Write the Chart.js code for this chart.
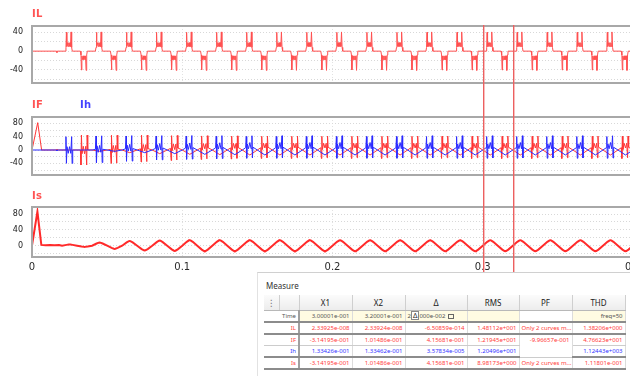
<!DOCTYPE html>
<html>
<head>
<meta charset="utf-8">
<script src="https://cdn.jsdelivr.net/npm/chart.js@4.4.0/dist/chart.umd.min.js"></script>
<style>
  html, body { margin: 0; padding: 0; background: #fff; width: 630px; height: 376px; overflow: hidden; }
  body { position: relative; }
  canvas.plot { position: absolute; left: 0; }
  .title { position: absolute; font: bold 10px "DejaVu Sans", sans-serif; letter-spacing: 0.3px; }
  #measure { position: absolute; left: 257px; top: 272px; width: 373px; height: 104px; background: #fff;
             border-top: 1px solid #d0d0d0; border-left: 1px solid #e2e2e2; }
  #measure .mtitle { position: absolute; left: 8px; top: 7px; font: 8px "Noto Sans", sans-serif; color: #333; }
  #measure table { position: absolute; left: 6px; top: 22px; border-collapse: collapse; table-layout: fixed;
                   font-family: "Noto Sans", "DejaVu Sans", sans-serif; }
  #measure th { height: 15px; padding: 0; font-weight: normal; font-size: 8px; color: #222;
                background: linear-gradient(#fbfbfb, #ececec); border-right: 1px solid #cfcfcf; border-bottom: 1px solid #b8b8b8; }
  #measure th.dots { color: #777; font-size: 9px; }
  #measure td { height: 10px; padding: 0 2px 0 0; font-size: 6px; line-height: 10px; text-align: right; white-space: nowrap;
                overflow: hidden; border-right: 1px solid #dcdcdc; }
  #measure td.lbl { border-right: 2px solid #a0a0a0; }
  #measure tr.thick td { border-bottom: 2px solid #8c8c8c; }
  #measure tr.thin td { border-bottom: 1px solid #cccccc; }
  #measure tr.time td { color: #555; }
  #measure tr.time td.y { background: #fffbe2; }
  #measure td.pfmerge { border-bottom: 2px solid #8c8c8c; vertical-align: top; }
  #measure td.left { text-align: left; padding: 0 0 0 2px; }
  .dbox { display: inline-block; border: 1px solid #888; background: #fff; color: #222; font-size: 7px; line-height: 7px; padding: 0 1px; }
  .lock { display: inline-block; width: 4px; height: 3px; border: 1px solid #666; margin-left: 3px; vertical-align: middle; }
</style>
</head>
<body>
<canvas id="cIL" class="plot" width="650" height="100" style="top:0px"></canvas>
<canvas id="cIF" class="plot" width="650" height="90" style="top:100px"></canvas>
<canvas id="cIs" class="plot" width="650" height="90" style="top:190px"></canvas>

<div class="title" style="left:32px; top:8px; color:#ff5353">IL</div>
<div class="title" style="left:32px; top:99px; color:#ff5353">IF</div>
<div class="title" style="left:80px; top:99px; color:#4343ff">Ih</div>
<div class="title" style="left:32px; top:190px; color:#ff5353">Is</div>

<div id="measure">
  <div class="mtitle">Measure</div>
  <table>
    <colgroup>
      <col style="width:15px"><col style="width:20px"><col style="width:53px"><col style="width:53px">
      <col style="width:62px"><col style="width:52px"><col style="width:53px"><col style="width:53px">
    </colgroup>
    <tr><th class="dots">&#8942;</th><th></th><th>X1</th><th>X2</th><th>&Delta;</th><th>RMS</th><th>PF</th><th>THD</th></tr>
    <tr class="time thick">
      <td class="lbl" colspan="2">Time</td><td class="y">3.00001e-001</td><td class="y">3.20001e-001</td>
      <td class="y left">2<span class="dbox">&Delta;</span>000e-002<span class="lock"></span></td>
      <td class="y"></td><td></td><td class="y">freq=50</td>
    </tr>
    <tr class="thick" style="color:#ff3b3b">
      <td class="lbl" colspan="2">IL</td><td>2.33925e-008</td><td>2.33924e-008</td><td>-6.50859e-014</td>
      <td>1.48112e+001</td><td class="left">Only 2 curves m...</td><td>1.38206e+000</td>
    </tr>
    <tr class="thin" style="color:#ff3b3b">
      <td class="lbl" colspan="2">IF</td><td>-3.14195e-001</td><td>1.01486e-001</td><td>4.15681e-001</td>
      <td>1.21945e+001</td><td class="pfmerge" rowspan="2">-9.96657e-001</td><td>4.76623e+001</td>
    </tr>
    <tr class="thick" style="color:#3434ff">
      <td class="lbl" colspan="2">Ih</td><td>1.33426e-001</td><td>1.33462e-001</td><td>3.57834e-005</td>
      <td>1.20496e+001</td><td>1.12443e+003</td>
    </tr>
    <tr class="thick" style="color:#ff3b3b">
      <td class="lbl" colspan="2">Is</td><td>-3.14195e-001</td><td>1.01486e-001</td><td>4.15681e-001</td>
      <td>8.98173e+000</td><td class="left">Only 2 curves m...</td><td>1.11801e-001</td>
    </tr>
  </table>
</div>

<script>
// time base (s)
const xRange = [0, 0.4];
const firstCycle = 0.02;
const cyclePeriod = 0.02;
const cursorTimes = [0.30, 0.32];

// per-cycle peak values (19 cycles from 0.02 s)
const ilAmp   = [40, 40, 40, 40, 40, 40, 40, 40, 40, 40, 40, 40, 40, 40, 40, 40, 40, 40, 40];
const isAmp   = [3, 8, 12, 13, 14, 14, 14, 14, 14, 14, 14, 14, 14, 14, 14, 14, 14, 14, 14];
const ihEnv   = [0, 4, 8, 11, 13, 14, 15, 15, 15, 15, 15, 15, 15, 15, 15, 15, 15, 15, 15];
const ihBurst = [40, 40, 38, 36, 35, 34, 33, 33, 33, 33, 33, 33, 33, 33, 33, 33, 33, 33, 33];
const ifEnv   = [0, 4, 8, 11, 13, 14, 15, 15, 15, 15, 15, 15, 15, 15, 15, 15, 15, 15, 15];
const ifBurst = [45, 42, 40, 37, 35, 34, 33, 33, 33, 33, 33, 33, 33, 33, 33, 33, 33, 33, 33];

// start-up part before the first cycle [t, value]
const ilHead = [[0, 0], [0.0164, 0], [0.0166, -3], [0.0168, 0]];
const ifHead = [[0, 0], [0.0038, 82], [0.0064, 0], [0.0164, 0], [0.0166, 3], [0.0168, 0]];
const ihHead = [[0, 0], [0.0164, 0], [0.0166, -3], [0.0168, 0]];
const isHead = [[0, 0], [0.0036, 86], [0.0062, 2], [0.009, 1], [0.012, 2], [0.015, 1], [0.018, 2]];

// one cycle, [phase, unit of amp]
const ilShape = [
  [0.0000, 0], [0.0022, 0], [0.0026, 0.2], [0.0029, 1], [0.0032, 0.25], [0.0037, 0.45], [0.0041, 0.25],
  [0.0045, 0.45], [0.0049, 0.25], [0.0053, 0.45], [0.0056, 0.25], [0.0060, 1.02], [0.0064, 0.2], [0.0068, 0],
  [0.0122, 0], [0.0126, -0.2], [0.0129, -1], [0.0132, -0.25], [0.0137, -0.45], [0.0141, -0.25],
  [0.0145, -0.45], [0.0149, -0.25], [0.0153, -0.45], [0.0156, -0.25], [0.0160, -1.02], [0.0164, -0.2], [0.0168, 0]
];
const isShape = [
  [0.0000, 0], [0.0030, 0.7], [0.0045, 0.97], [0.0050, 1], [0.0055, 0.97], [0.0070, 0.7],
  [0.0100, 0], [0.0130, -0.7], [0.0145, -0.97], [0.0150, -1], [0.0155, -0.97], [0.0170, -0.7]
];
// [phase, unit of envelope, unit of burst]
const ihShape = [
  [0.0000, 0, 0], [0.0022, 0.45, 0], [0.0026, 0.5, 1], [0.0029, 0.55, -1], [0.0033, 0.65, 0.25],
  [0.0041, 0.8, -0.25], [0.0050, 0.95, 0.25], [0.0058, 0.8, -0.25],
  [0.0064, 0.65, 1], [0.0067, 0.6, -1], [0.0071, 0.55, 0],
  [0.0100, 0, 0], [0.0150, -1, 0]
];
const ifShape = [
  [0.0000, 0, 0], [0.0050, -1, 0], [0.0100, 0, 0],
  [0.0122, 0.45, 0], [0.0126, 0.5, -1], [0.0129, 0.55, 1], [0.0133, 0.65, -0.25],
  [0.0141, 0.8, 0.25], [0.0150, 0.95, -0.25], [0.0158, 0.8, 0.25],
  [0.0164, 0.65, -1], [0.0167, 0.6, 1], [0.0171, 0.55, 0]
];

function buildSeries(head, shape, amp, burst) {
  const pts = head.map(function (p) { return {x: p[0], y: p[1]}; });
  for (let k = 0; k < amp.length; k++) {
    const t0 = firstCycle + k * cyclePeriod;
    shape.forEach(function (s) {
      const b = burst ? (s[2] || 0) * burst[k] : 0;
      pts.push({x: t0 + s[0], y: s[1] * amp[k] + b});
    });
  }
  pts.push({x: xRange[1], y: 0});
  return pts;
}

// plot frame and the two measuring cursors
const framePlugin = {
  id: 'frame',
  afterDraw: function (chart, args, opts) {
    const ctx = chart.ctx;
    const a = chart.chartArea;
    ctx.save();
    ctx.setLineDash([]);
    ctx.strokeStyle = '#a8a8a8';
    ctx.lineWidth = 2;
    ctx.strokeRect(a.left, a.top, a.right - a.left, a.bottom - a.top);
    cursorTimes.forEach(function (t) {
      const x = Math.round(chart.scales.x.getPixelForValue(t));
      const top = opts.fromTop ? a.top - 1 : 0;
      ctx.fillStyle = 'rgba(240, 110, 110, 0.45)';
      ctx.fillRect(x + 1, top, 1, chart.height - top);
      ctx.fillStyle = 'rgb(236, 96, 96)';
      ctx.fillRect(x, top, 1, chart.height - top);
    });
    ctx.restore();
  }
};

const tickFont = {family: 'DejaVu Sans', size: 8};

function makePlot(id, datasets, yMin, yMax, padding, showX, fromTop) {
  return new Chart(document.getElementById(id), {
    type: 'line',
    data: {datasets: datasets},
    options: {
      responsive: false,
      animation: false,
      events: [],
      layout: {padding: padding},
      elements: {point: {radius: 0}, line: {tension: 0, borderWidth: 1}},
      plugins: {legend: {display: false}, tooltip: {enabled: false}, frame: {fromTop: fromTop}},
      scales: {
        x: {
          type: 'linear', min: xRange[0], max: xRange[1],
          ticks: {display: showX, stepSize: 0.1, padding: 4, autoSkip: false, maxRotation: 0, includeBounds: false,
                  color: '#2a2a2a', font: {family: 'DejaVu Sans', size: 10},
                  callback: function (v) { return String(+v.toFixed(1)); }},
          grid: {color: '#e2e2e2', drawTicks: false},
          border: {display: false, dash: [1, 2]},
          afterFit: function (s) { s.height = showX ? 23 : 0; }
        },
        y: {
          min: yMin, max: yMax,
          ticks: {stepSize: 20, autoSkip: false, includeBounds: false, padding: 9, color: '#1a1a1a', font: tickFont,
                  callback: function (v) { return v % 40 === 0 ? String(v) : ''; }},
          grid: {color: '#d8d8d8', drawTicks: false},
          border: {display: false, dash: [1, 2]},
          afterFit: function (s) { s.width = 32; }
        }
      }
    },
    plugins: [framePlugin]
  });
}

makePlot('cIL', [
  {data: buildSeries(ilHead, ilShape, ilAmp), borderColor: '#ff5050', borderWidth: 1}
], -67.6, 53.4, {top: 26, bottom: 17, left: 0, right: 17}, false, true);

makePlot('cIF', [
  {data: buildSeries(ihHead, ihShape, ihEnv, ihBurst), borderColor: '#2a2aff', borderWidth: 1},
  {data: buildSeries(ifHead, ifShape, ifEnv, ifBurst), borderColor: '#ff3535', borderWidth: 1}
], -75, 99, {top: 17, bottom: 15, left: 0, right: 17}, false, false);

makePlot('cIs', [
  {data: buildSeries(isHead, isShape, isAmp), borderColor: '#ff2a2a', borderWidth: 2}
], -28.5, 97.7, {top: 17, bottom: 0, left: 0, right: 17}, true, false);
</script>
</body>
</html>
